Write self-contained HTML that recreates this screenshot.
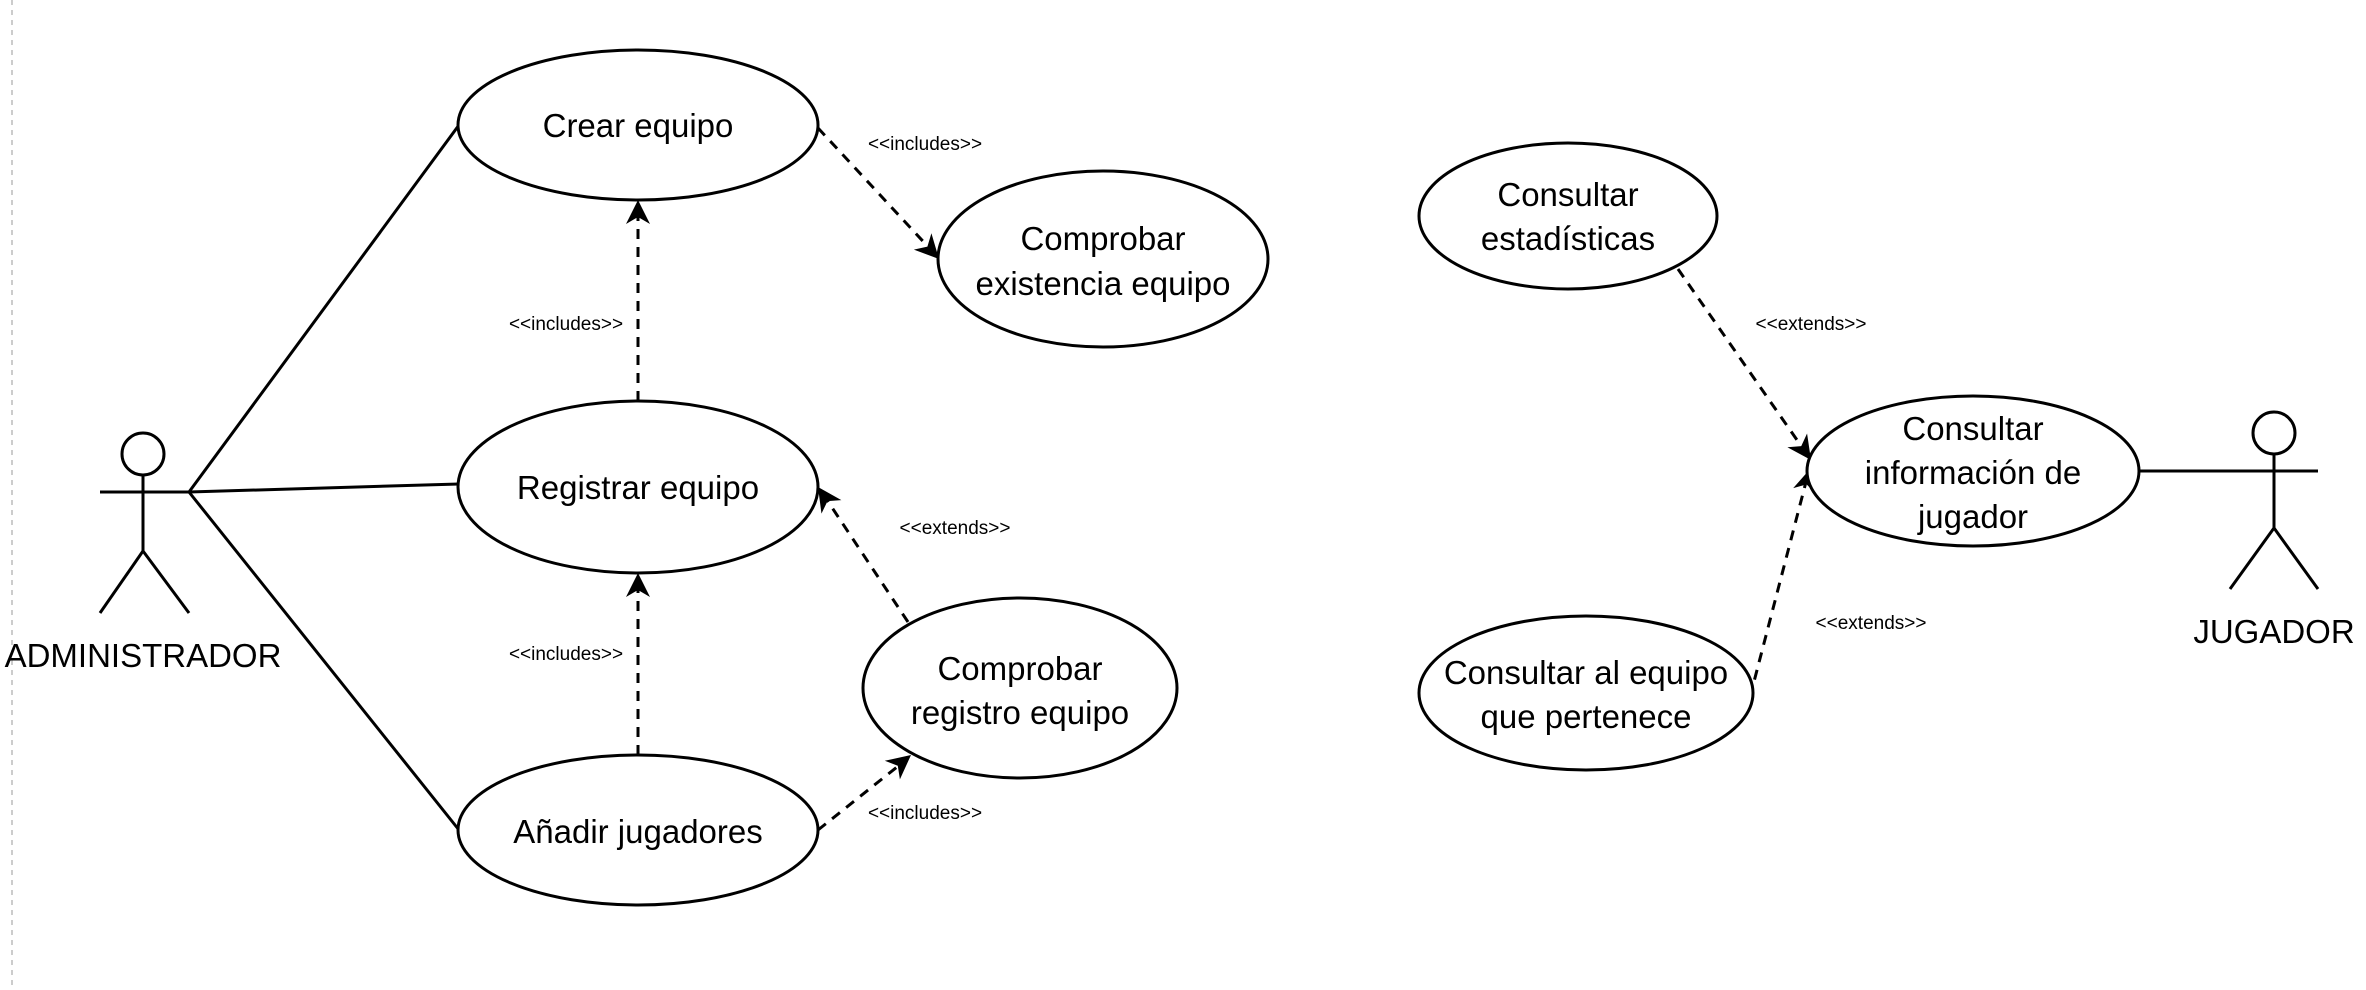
<!DOCTYPE html>
<html><head><meta charset="utf-8"><style>
html,body{margin:0;padding:0;background:#fff;}
svg{display:block;}
text{font-family:"Liberation Sans",Arial,sans-serif;fill:#000;}
.t{font-size:33px;text-anchor:middle;}
.s{font-size:19px;text-anchor:middle;}
</style></head><body>
<svg width="2366" height="990" viewBox="0 0 2366 990" xmlns="http://www.w3.org/2000/svg">
<line x1="12" y1="0" x2="12" y2="990" stroke="#bbb" stroke-width="1.5" stroke-dasharray="5,5"/>
<g fill="none" stroke="#000" stroke-width="3">
<line x1="189" y1="492" x2="459" y2="125"/>
<line x1="189" y1="492" x2="459" y2="484"/>
<line x1="189" y1="492" x2="459" y2="830"/>
<line x1="2138" y1="471" x2="2230" y2="471"/>
<g stroke-dasharray="10,8">
<line x1="638" y1="401" x2="638" y2="210"/>
<line x1="638" y1="755" x2="638" y2="583"/>
<line x1="818" y1="128" x2="932" y2="251"/>
<line x1="908" y1="622" x2="825" y2="497"/>
<line x1="818" y1="830" x2="902" y2="763"/>
<line x1="1678" y1="269" x2="1804" y2="450"/>
<line x1="1750" y1="697" x2="1807" y2="478"/>
</g>
</g>
<g fill="#000" stroke="none">
<path d="M0,0 L-24,-12 L-17,0 L-24,12 Z" transform="translate(638,200) rotate(-90)"/>
<path d="M0,0 L-24,-12 L-17,0 L-24,12 Z" transform="translate(638,573) rotate(-90)"/>
<path d="M0,0 L-24,-12 L-17,0 L-24,12 Z" transform="translate(939,259) rotate(47)"/>
<path d="M0,0 L-24,-12 L-17,0 L-24,12 Z" transform="translate(818,487) rotate(236)"/>
<path d="M0,0 L-24,-12 L-17,0 L-24,12 Z" transform="translate(911,755) rotate(-39)"/>
<path d="M0,0 L-24,-12 L-17,0 L-24,12 Z" transform="translate(1811,460) rotate(55)"/>
<path d="M0,0 L-24,-12 L-17,0 L-24,12 Z" transform="translate(1811,468) rotate(-75)"/>
</g>
<g fill="#fff" stroke="#000" stroke-width="3">
<ellipse cx="638" cy="125" rx="180" ry="75"/>
<ellipse cx="1103" cy="259" rx="165" ry="88"/>
<ellipse cx="638" cy="487" rx="180" ry="86"/>
<ellipse cx="1020" cy="688" rx="157" ry="90"/>
<ellipse cx="638" cy="830" rx="180" ry="75"/>
<ellipse cx="1568" cy="216" rx="149" ry="73"/>
<ellipse cx="1973" cy="471" rx="166" ry="75"/>
<ellipse cx="1586" cy="693" rx="167" ry="77"/>
</g>
<g fill="none" stroke="#000" stroke-width="3">
<circle cx="143" cy="454" r="21"/>
<line x1="100" y1="492" x2="189" y2="492"/>
<line x1="143" y1="475" x2="143" y2="551"/>
<line x1="143" y1="551" x2="100" y2="613"/>
<line x1="143" y1="551" x2="189" y2="613"/>
<circle cx="2274" cy="433" r="21"/>
<line x1="2230" y1="471" x2="2318" y2="471"/>
<line x1="2274" y1="454" x2="2274" y2="528"/>
<line x1="2274" y1="528" x2="2230" y2="589"/>
<line x1="2274" y1="528" x2="2318" y2="589"/>
</g>
<text class="t" x="638" y="137">Crear equipo</text>
<text class="t" x="1103" y="250">Comprobar</text>
<text class="t" x="1103" y="295">existencia equipo</text>
<text class="t" x="638" y="499">Registrar equipo</text>
<text class="t" x="1020" y="680">Comprobar</text>
<text class="t" x="1020" y="724">registro equipo</text>
<text class="t" x="638" y="843">Añadir jugadores</text>
<text class="t" x="1568" y="206">Consultar</text>
<text class="t" x="1568" y="250">estadísticas</text>
<text class="t" x="1973" y="440">Consultar</text>
<text class="t" x="1973" y="484">información de</text>
<text class="t" x="1973" y="528">jugador</text>
<text class="t" x="1586" y="684">Consultar al equipo</text>
<text class="t" x="1586" y="728">que pertenece</text>
<text class="t" x="143" y="667">ADMINISTRADOR</text>
<text class="t" x="2274" y="643">JUGADOR</text>
<text class="s" x="925" y="150">&lt;&lt;includes&gt;&gt;</text>
<text class="s" x="566" y="330">&lt;&lt;includes&gt;&gt;</text>
<text class="s" x="566" y="660">&lt;&lt;includes&gt;&gt;</text>
<text class="s" x="925" y="819">&lt;&lt;includes&gt;&gt;</text>
<text class="s" x="955" y="534">&lt;&lt;extends&gt;&gt;</text>
<text class="s" x="1811" y="330">&lt;&lt;extends&gt;&gt;</text>
<text class="s" x="1871" y="629">&lt;&lt;extends&gt;&gt;</text>
</svg>
</body></html>
